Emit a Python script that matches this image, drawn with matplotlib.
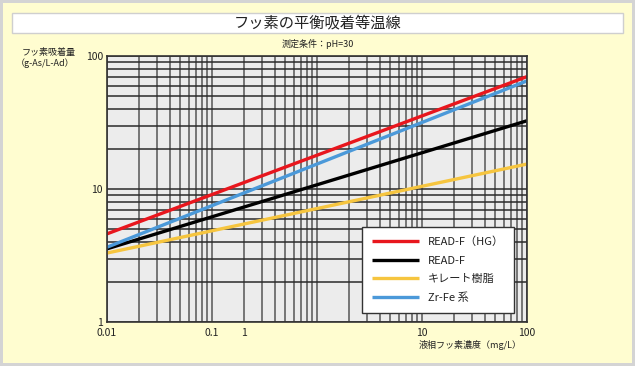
import matplotlib
matplotlib.use("Agg")
import matplotlib.pyplot as plt
from matplotlib.patches import Rectangle
from matplotlib.ticker import NullFormatter, LogLocator

plt.rcParams['font.family'] = ['Noto Sans CJK JP', 'DejaVu Sans']

# liquid fluorine concentration (mg/L), end points of each isotherm
conc = [0.01, 100]
read_f_hg = [4.6, 70]
read_f = [3.55, 32.6]
chelate = [3.3, 15.4]
zr_fe = [3.65, 65]

series = [
    ("READ-F（HG）", read_f_hg, "#e8161d"),
    ("READ-F", read_f, "#000000"),
    ("キレート樹脂", chelate, "#f6c53f"),
    ("Zr-Fe 系", zr_fe, "#4b99d9"),
]

xtick_pos = [0.01, 0.1, 0.2, 10, 100]
xtick_lab = ["0.01", "0.1", "1", "10", "100"]
ytick_pos = [1, 10, 100]
ytick_lab = ["1", "10", "100"]

fig = plt.figure(figsize=(6.35, 3.66), dpi=100)
fig.patch.set_facecolor("#d4d4d4")
fig.patches.append(Rectangle((3 / 635, 3 / 366), 629 / 635, 360 / 366,
                             transform=fig.transFigure, facecolor="#fffdd0",
                             edgecolor="none", zorder=-2))
fig.patches.append(Rectangle((12 / 635, 1 - 33 / 366), 611 / 635, 20 / 366,
                             transform=fig.transFigure, facecolor="white",
                             edgecolor="#cfcfcf", linewidth=1, zorder=-1))
fig.text(0.5, 1 - 23 / 366, "フッ素の平衡吸着等温線", ha="center", va="center",
         fontsize=11, color="#222222")
fig.text(0.5, 1 - 44 / 366, "測定条件：pH=30", ha="center", va="center",
         fontsize=6.5, color="#222222")
fig.text(76 / 635, 1 - 52 / 366, "フッ素吸着量", ha="right", va="center",
         fontsize=6.5, color="#222222")
fig.text(16 / 635, 1 - 63 / 366, "（g-As/L-Ad）", ha="left", va="center",
         fontsize=6.5, color="#222222")
fig.text(522 / 635, 1 - 345 / 366, "液相フッ素濃度（mg/L）", ha="right", va="center",
         fontsize=6.5, color="#222222")

ax = fig.add_axes([107 / 635, 1 - 322 / 366, 420 / 635, 266 / 366], zorder=2)
ax.set_facecolor("#ececec")
ax.set_xscale("log")
ax.set_yscale("log")
ax.set_xlim(0.01, 100)
ax.set_ylim(1, 100)

for label, vals, color in series:
    ax.plot(conc, vals, color=color, linewidth=2.4, label=label, solid_capstyle="butt")

ax.set_xticks(xtick_pos, labels=xtick_lab)
ax.set_yticks(ytick_pos, labels=ytick_lab)
ax.xaxis.set_minor_locator(LogLocator(base=10, subs=range(1, 10), numticks=20))
ax.yaxis.set_minor_locator(LogLocator(base=10, subs=range(1, 10), numticks=20))
ax.xaxis.set_minor_formatter(NullFormatter())
ax.yaxis.set_minor_formatter(NullFormatter())
ax.tick_params(which="both", length=0, labelsize=7.5, colors="#222222", pad=3)
ax.tick_params(axis="x", pad=4)
ax.xaxis.grid(True, which="both", color="#555555", linewidth=1.1)
ax.yaxis.grid(True, which="both", color="#2a2a2a", linewidth=1.1)
ax.set_axisbelow(True)

for s in ax.spines.values():
    s.set_color("#333333")
    s.set_linewidth(1.2)

leg = ax.legend(loc="lower right", bbox_to_anchor=(0.969, 0.034), fontsize=8,
                frameon=True, fancybox=False, borderpad=0.9, labelspacing=0.75,
                handlelength=4.2, handletextpad=0.8, borderaxespad=0)
leg.get_frame().set_edgecolor("#333333")
leg.get_frame().set_linewidth(1.0)
leg.get_frame().set_facecolor("white")
leg.get_frame().set_alpha(1)
for t in leg.get_texts():
    t.set_color("#222222")

fig.savefig("out.png", dpi=100, facecolor=fig.get_facecolor())
